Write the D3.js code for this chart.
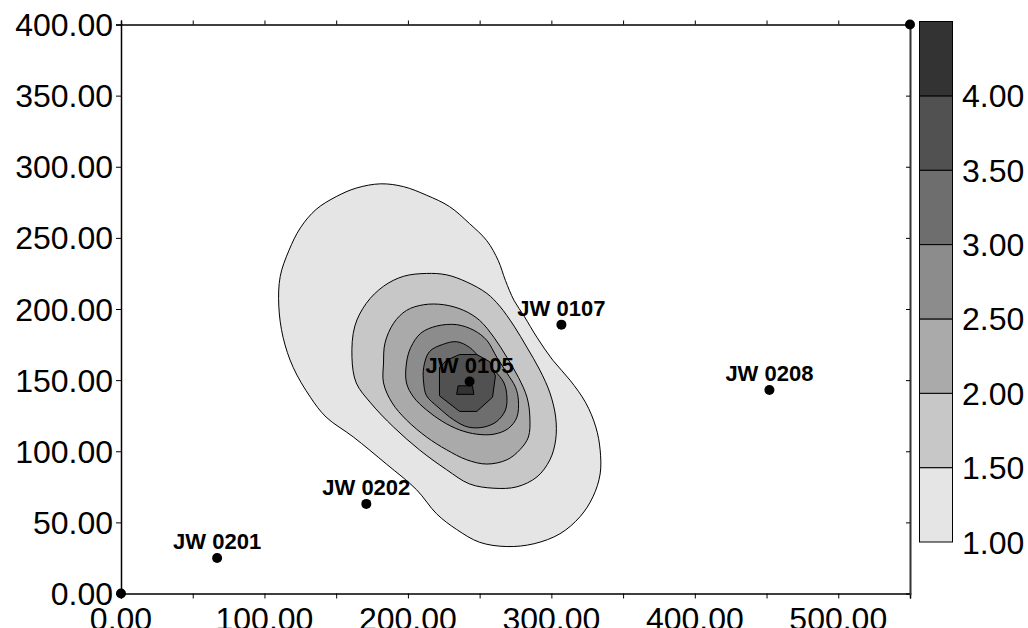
<!DOCTYPE html>
<html>
<head>
<meta charset="utf-8">
<script src="https://cdn.jsdelivr.net/npm/d3@7"></script>
<style>
    body { margin: 0; background: #fff; }
    text { font-family: "Liberation Sans", Arial, sans-serif; }
</style>
</head>
<body>
<div id="chart"></div>
<script>
// wells (post map)
var wellNames = ["JW 0201", "JW 0202", "JW 0105", "JW 0107", "JW 0208"];
var wellX = [67, 171, 243, 307, 452];
var wellY = [25, 63, 149, 189, 143];
// grid corner posts, no label
var cornerX = [0, 550];
var cornerY = [0, 400];

// contour levels and their fill colours
var levels = [1.0, 1.5, 2.0, 2.5, 3.0, 3.5, 4.0];
var legendVals = [1.0, 1.5, 2.0, 2.5, 3.0, 3.5, 4.0, 4.5];
var bandColors = ["#e5e5e5", "#c7c7c7", "#aaaaaa", "#8c8c8c", "#6e6e6e", "#515151", "#333333"];

// contour rings (x, y in map units)
var ring100 = [[181,288],[197,286],[213,280],[229,272],[243,260],[255,248],[263,234],[268,220],[274,206],[281,195],
    [290,180],[301,164],[313,150],[324,134],[331,117],[334,101],[334,84],[329,68],[320,54],[306,42],[288,35],[269,33],
    [250,36],[234,45],[220,56],[206,73],[185,91],[162,110],[143,124],[132,138],[120,159],[113,180],[110,202],[111,223],
    [117,241],[125,257],[136,270],[150,279],[164,285]];
var ring150 = [[161,166],[163,188],[171,204],[183,216],[197,223],[213,225],[227,224],[241,219],[255,211],[264,202],
    [274,188],[283,173],[292,157],[299,141],[303,124],[303,108],[299,94],[290,82],[276,75],[260,74],[243,77],[227,87],
    [208,101],[190,117],[174,134],[164,148]];
var ring200 = [[184,176],[190,190],[199,199],[211,203],[225,203],[239,199],[250,192],[260,180],[269,166],[277,152],
    [283,138],[285,124],[284,110],[278,101],[269,94],[255,91],[241,94],[227,101],[213,110],[199,122],[189,134],[183,148],[183,162]];
var ring250 = [[199,162],[202,173],[209,183],[220,188],[234,189],[246,185],[255,178],[262,166],[269,155],[275,145],
    [277,136],[276,124],[270,116],[260,112],[248,112],[236,115],[224,121],[213,129],[204,138],[199,148]];
var ring300 = [[211,148],[211,159],[215,170],[224,175],[234,177],[243,173],[250,166],[260,157],[267,148],[269,138],
    [268,129],[262,121],[253,117],[242,117],[232,122],[221,131],[213,139]];
var ring350 = [[222,159],[222,139],[236,128],[248,128],[259,138],[261,153],[257,163],[248,168],[236,168],[227,164]];
var ring400 = [[235,146],[245,146],[246,140],[234,140]];
var rings = [ring100, ring150, ring200, ring250, ring300, ring350, ring400];

var xTickVals = [0, 50, 100, 150, 200, 250, 300, 350, 400, 450, 500, 550];
var xLabelVals = [0, 100, 200, 300, 400, 500];
var yTickVals = [0, 50, 100, 150, 200, 250, 300, 350, 400];

var width = 1028, height = 628;

var svg = d3.select("#chart").append("svg")
    .attr("width", width)
    .attr("height", height);

var x = d3.scaleLinear().domain([0, 550]).range([121, 910]);
var y = d3.scaleLinear().domain([0, 400]).range([593.5, 24.5]);

// contours, outer first so inner ones paint on top
var smooth = d3.line()
    .x(function (d) { return x(d[0]); })
    .y(function (d) { return y(d[1]); })
    .curve(d3.curveCatmullRomClosed.alpha(0.5));
var straight = d3.line()
    .x(function (d) { return x(d[0]); })
    .y(function (d) { return y(d[1]); })
    .curve(d3.curveLinearClosed);

svg.append("g").selectAll("path")
    .data(rings)
    .enter().append("path")
    .attr("d", function (d, i) { return i < 5 ? smooth(d) : straight(d); })
    .attr("fill", function (d, i) { return bandColors[i]; })
    .attr("stroke", "#000")
    .attr("stroke-width", 1)
    .attr("stroke-linejoin", "round");

// frame
var fmt = d3.format(".2f");

var xBottom = svg.append("g")
    .attr("transform", "translate(0," + y(0) + ")")
    .call(d3.axisBottom(x).tickValues(xTickVals).tickSize(5).tickFormat(""));
var xTop = svg.append("g")
    .attr("transform", "translate(0," + y(400) + ")")
    .call(d3.axisTop(x).tickValues(xTickVals).tickSize(4).tickFormat(""));
var yLeft = svg.append("g")
    .attr("transform", "translate(" + x(0) + ",0)")
    .call(d3.axisLeft(y).tickValues(yTickVals).tickSize(5).tickFormat(""));
var yRight = svg.append("g")
    .attr("transform", "translate(" + x(550) + ",0)")
    .call(d3.axisLeft(y).tickValues(yTickVals).tickSize(4).tickFormat(""));

[xBottom, xTop, yLeft, yRight].forEach(function (g) {
    g.select(".domain").attr("stroke", "#000").attr("stroke-width", 1.5);
    g.selectAll(".tick line").attr("stroke", "#000").attr("stroke-width", 1);
});
yRight.select(".domain").attr("stroke", "#333").attr("stroke-width", 2);

// axis labels
svg.append("g").selectAll("text")
    .data(yTickVals)
    .enter().append("text")
    .attr("x", 113)
    .attr("y", function (d) { return y(d) + 11.5; })
    .attr("text-anchor", "end")
    .attr("font-size", 32)
    .attr("fill", "#000")
    .text(function (d) { return fmt(d); });

svg.append("g").selectAll("text")
    .data(xLabelVals)
    .enter().append("text")
    .attr("x", function (d) { return x(d); })
    .attr("y", 630)
    .attr("text-anchor", "middle")
    .attr("font-size", 32)
    .attr("fill", "#000")
    .text(function (d) { return fmt(d); });

// posts
svg.append("g").selectAll("circle")
    .data(cornerX)
    .enter().append("circle")
    .attr("cx", function (d) { return x(d); })
    .attr("cy", function (d, i) { return y(cornerY[i]); })
    .attr("r", 5)
    .attr("fill", "#000");

var wells = svg.append("g").selectAll("g")
    .data(wellNames)
    .enter().append("g");

wells.append("circle")
    .attr("cx", function (d, i) { return x(wellX[i]); })
    .attr("cy", function (d, i) { return y(wellY[i]); })
    .attr("r", 5)
    .attr("fill", "#000");

wells.append("text")
    .attr("x", function (d, i) { return x(wellX[i]); })
    .attr("y", function (d, i) { return y(wellY[i]) - 9; })
    .attr("text-anchor", "middle")
    .attr("font-size", 22)
    .attr("font-weight", "bold")
    .attr("fill", "#000")
    .text(function (d) { return d; });

// colour scale bar
var c = d3.scaleLinear().domain([1.0, 4.5]).range([542, 21.5]);
var barX = 919.5, barW = 33;

svg.append("g").selectAll("rect")
    .data(bandColors)
    .enter().append("rect")
    .attr("x", barX)
    .attr("y", function (d, i) { return c(legendVals[i + 1]); })
    .attr("width", barW)
    .attr("height", function (d, i) { return c(legendVals[i]) - c(legendVals[i + 1]); })
    .attr("fill", function (d) { return d; })
    .attr("stroke", "#000")
    .attr("stroke-width", 1);

svg.append("g").selectAll("text")
    .data(levels)
    .enter().append("text")
    .attr("x", 962)
    .attr("y", function (d) { return c(d) + 11.5; })
    .attr("font-size", 32)
    .attr("fill", "#000")
    .text(function (d) { return fmt(d); });
</script>
</body>
</html>
